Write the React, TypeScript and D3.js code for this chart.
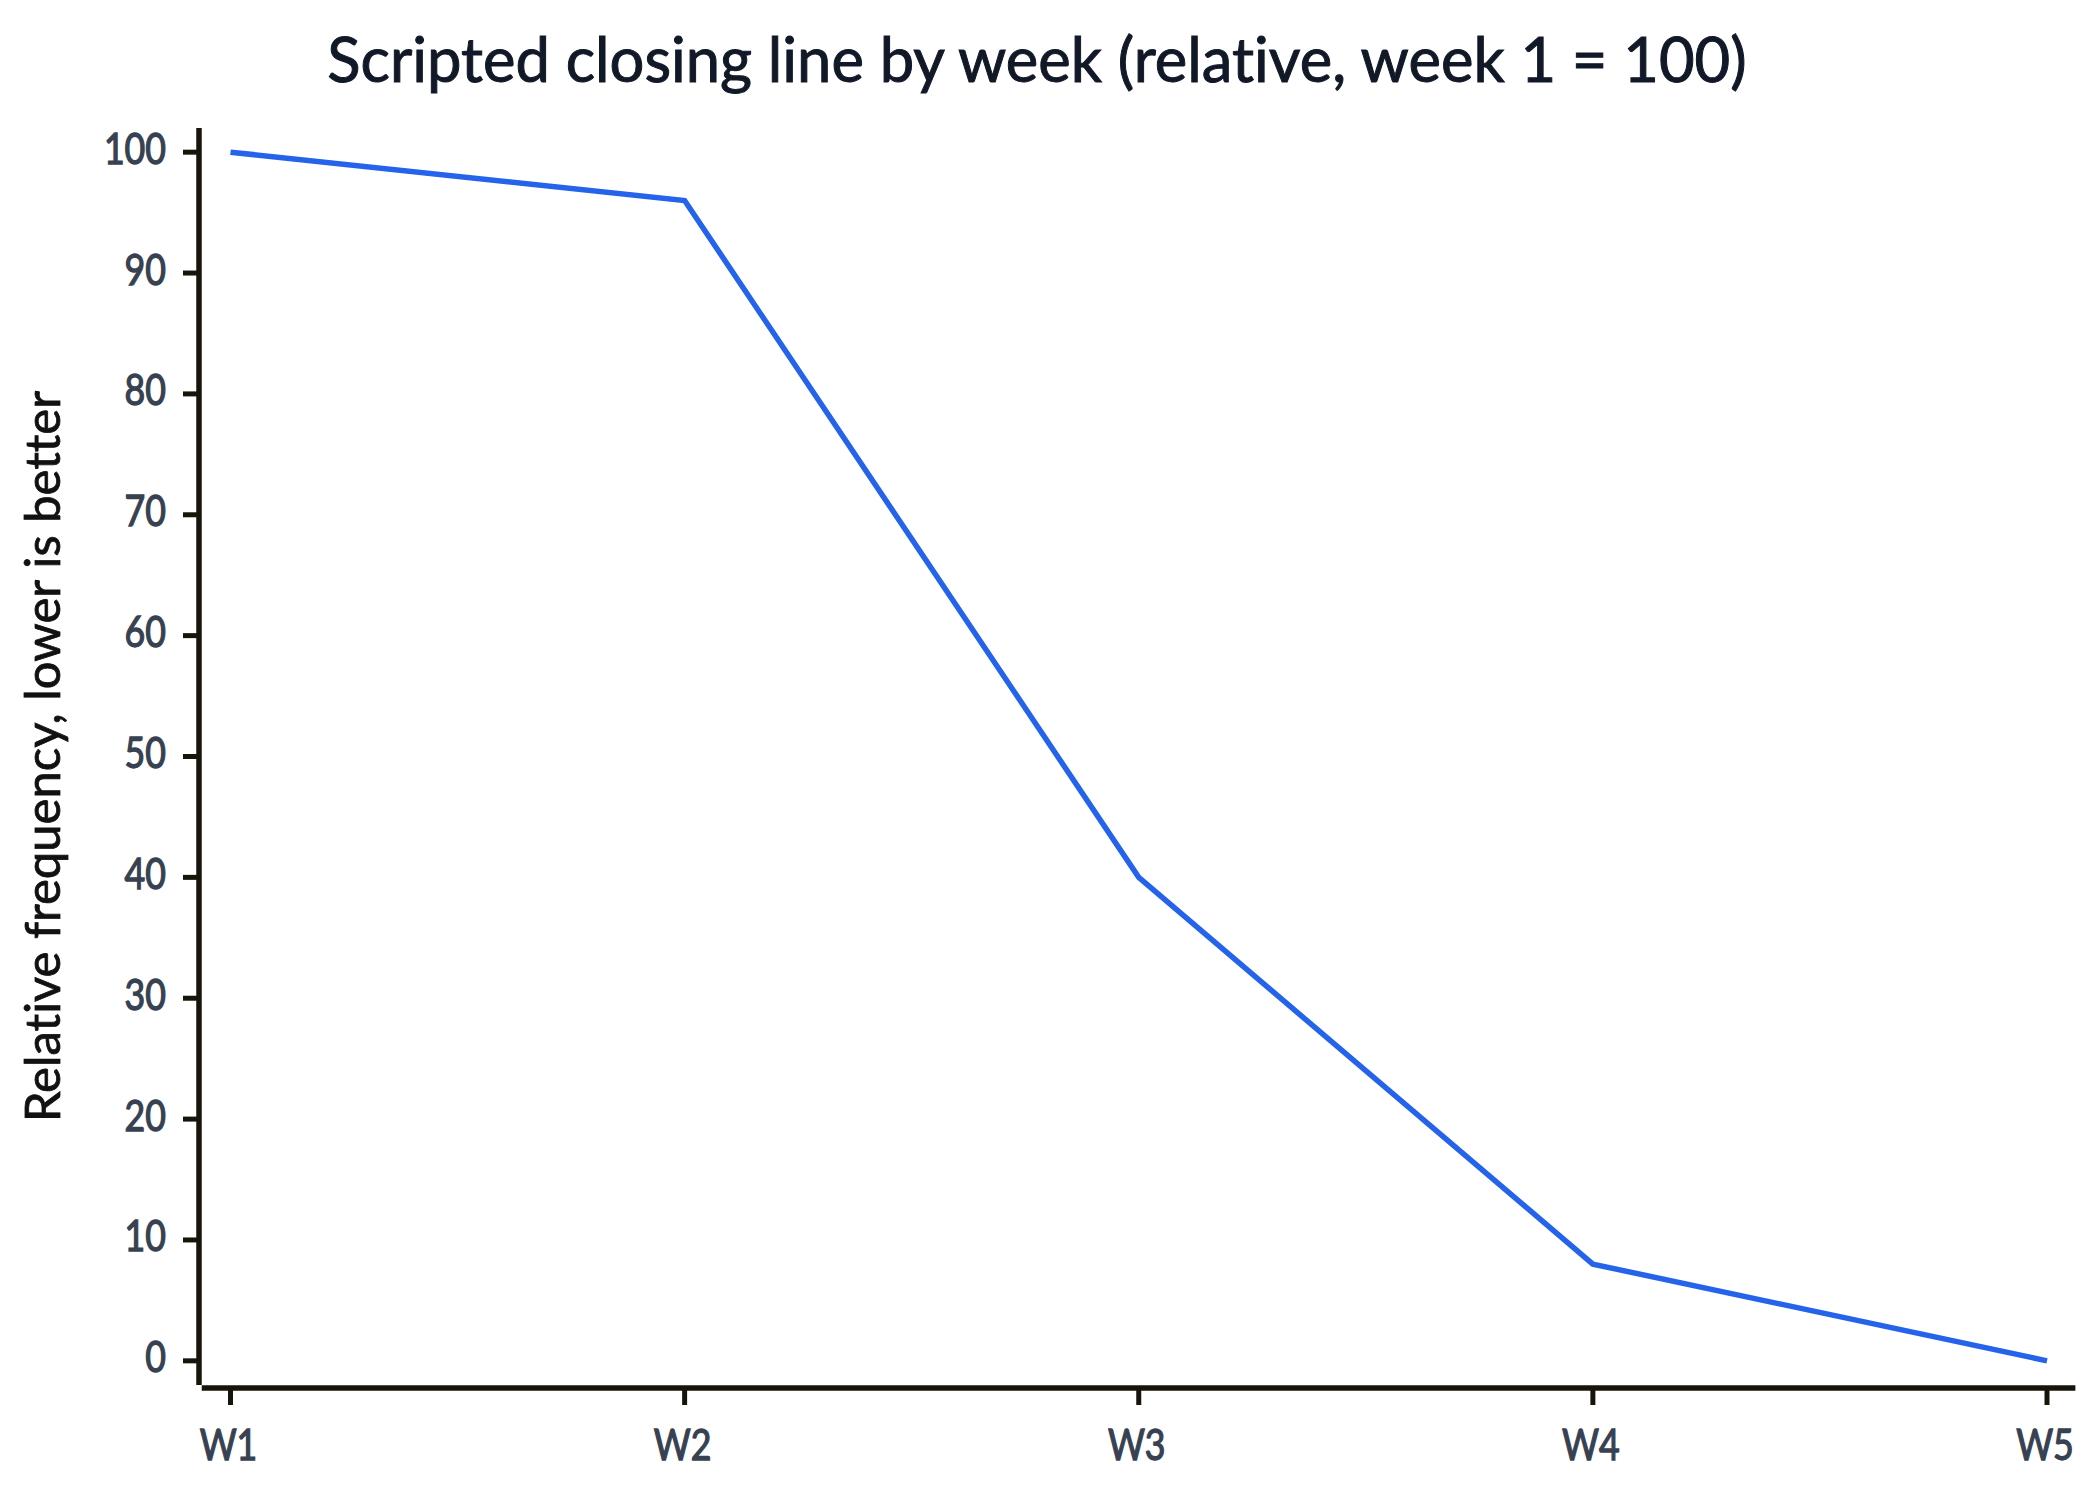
import React from "react";
import * as d3 from "d3";

const weeks = ["W1", "W2", "W3", "W4", "W5"];
const values = [100, 96, 40, 8, 0];
const yTicks = [0, 10, 20, 30, 40, 50, 60, 70, 80, 90, 100];
const title = "Scripted closing line by week (relative, week 1 = 100)";
const yLabel = "Relative frequency, lower is better";

const W = 2100;
const H = 1500;
const FONT = "Lato, 'Noto Sans', sans-serif";
const AXIS = "#17150a";
const TICKTXT = "#374151";
const noLig = { fontVariantLigatures: "none" as const };

export default function App() {
  const x = d3.scaleLinear().domain([0, weeks.length - 1]).range([230.5, 2047]);
  const y = d3.scaleLinear().domain([-2, 102]).range([1385, 128]);
  const line = d3
    .line<number>()
    .x((_, i) => x(i))
    .y((d) => y(d));

  const axisY = 1388;
  const axisX = 199;
  const xRight = x(4.0625);

  return (
    <svg
      width={W}
      height={H}
      style={{ position: "absolute", left: 0, top: 0, background: "#ffffff" }}
    >
      <rect x={0} y={0} width={W} height={H} fill="#ffffff" />
      <text
        x={1037}
        y={82}
        textAnchor="middle"
        fontFamily={FONT}
        fontSize={61.5}
        fill="#111827"
        stroke="#111827"
        strokeWidth={1}
        style={noLig}
      >
        {title}
      </text>

      {/* y axis */}
      <line x1={axisX} x2={axisX} y1={y(102)} y2={y(-2)} stroke={AXIS} strokeWidth={5.5} />
      {yTicks.map((t) => (
        <g key={t}>
          <line x1={axisX - 16} x2={axisX} y1={y(t)} y2={y(t)} stroke={AXIS} strokeWidth={5} />
          <text
            transform={`translate(166,${y(t) + 11.5}) scale(0.85,1)`}
            textAnchor="end"
            fontFamily={FONT}
            fontSize={42}
            fill={TICKTXT}
            stroke={TICKTXT}
            strokeWidth={1.3}
            style={noLig}
          >
            {t}
          </text>
        </g>
      ))}

      {/* x axis */}
      <line x1={axisX + 2.75} x2={xRight} y1={axisY} y2={axisY} stroke={AXIS} strokeWidth={5.5} />
      {weeks.map((w, i) => (
        <g key={w}>
          <line x1={x(i)} x2={x(i)} y1={axisY} y2={axisY + 17} stroke={AXIS} strokeWidth={5} />
          <text
            transform={`translate(${x(i) - 2},1460) scale(0.85,1)`}
            textAnchor="middle"
            fontFamily={FONT}
            fontSize={42}
            fill={TICKTXT}
            stroke={TICKTXT}
            strokeWidth={1.3}
            style={noLig}
          >
            {w}
          </text>
        </g>
      ))}

      <text
        transform={`translate(60,${(y(102) + y(-2)) / 2}) rotate(-90)`}
        textAnchor="middle"
        fontFamily={FONT}
        fontSize={49}
        fill="#111111"
        stroke="#111111"
        strokeWidth={0.8}
        style={noLig}
      >
        {yLabel}
      </text>

      <path d={line(values) ?? ""} fill="none" stroke="#2563eb" strokeWidth={5.5} strokeLinejoin="miter" />
    </svg>
  );
}
